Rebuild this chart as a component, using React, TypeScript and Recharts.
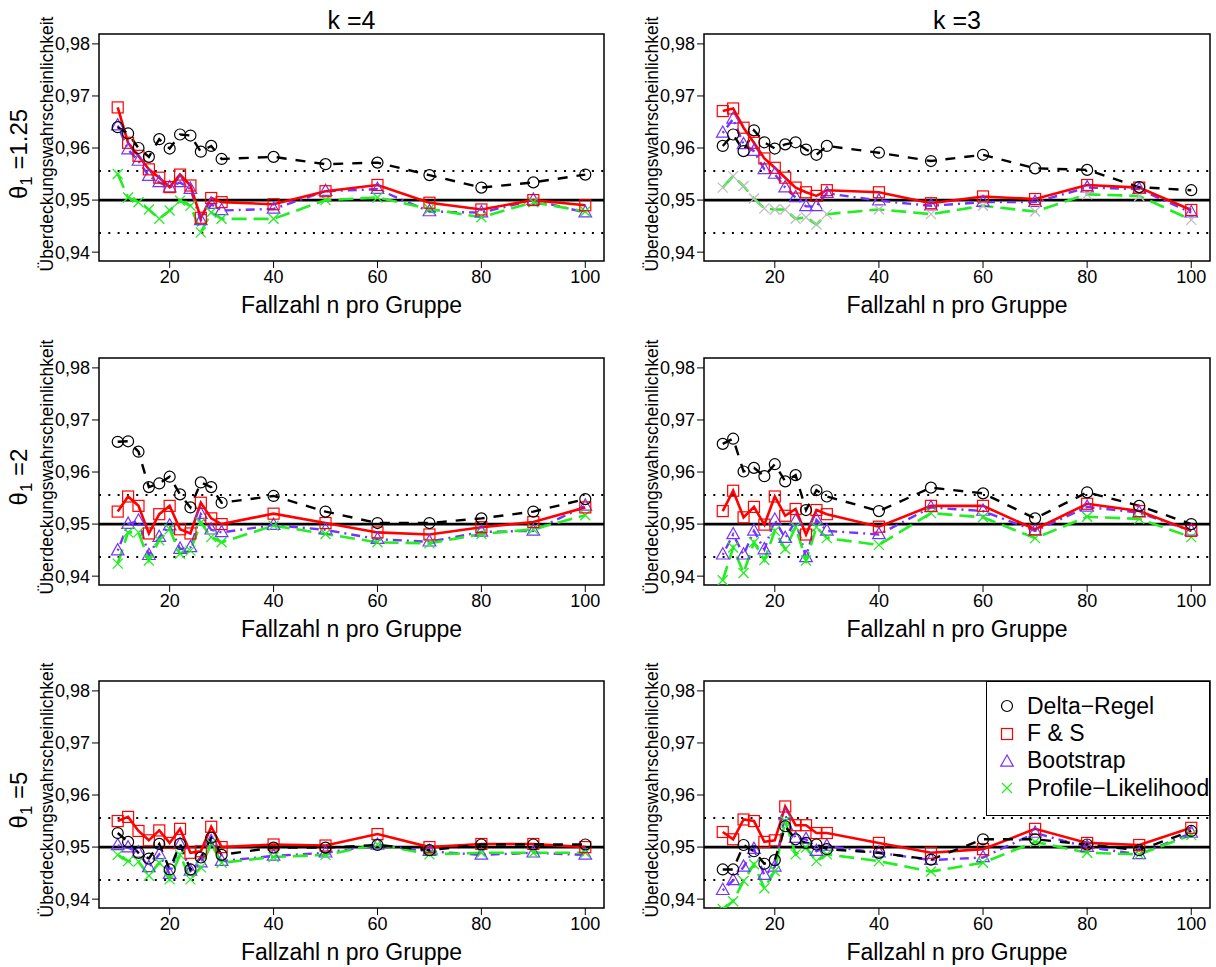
import React from 'react'
import { LineChart, Line, XAxis, YAxis, ReferenceLine, ReferenceArea } from 'recharts'

// sample sizes per group
const N = [10, 12, 14, 16, 18, 20, 22, 24, 26, 28, 30, 40, 50, 60, 70, 80, 90, 100]

// theta1 = 1.25
const delta_k4_t1 = [0.9640, 0.9628, 0.9600, 0.9583, 0.9617, 0.9599, 0.9626, 0.9624, 0.9593, 0.9604, 0.9579, 0.9583, 0.9569, 0.9572, 0.9548, 0.9524, 0.9534, 0.9549]
const fs_k4_t1 = [0.9678, 0.9610, 0.9585, 0.9559, 0.9543, 0.9525, 0.9549, 0.9528, 0.9466, 0.9504, 0.9496, 0.9492, 0.9517, 0.9529, 0.9495, 0.9482, 0.9500, 0.9490]
const boot_k4_t1 = [0.9643, 0.9597, 0.9575, 0.9546, 0.9534, 0.9524, 0.9534, 0.9521, 0.9461, 0.9492, 0.9480, 0.9483, 0.9517, 0.9521, 0.9478, 0.9476, 0.9500, 0.9476]
const pl_k4_t1 = [0.9550, 0.9505, 0.9496, 0.9482, 0.9464, 0.9480, 0.9499, 0.9489, 0.9438, 0.9476, 0.9464, 0.9464, 0.9500, 0.9505, 0.9483, 0.9467, 0.9496, 0.9478]

const delta_k3_t1 = [0.9604, 0.9626, 0.9594, 0.9634, 0.9611, 0.9599, 0.9607, 0.9611, 0.9597, 0.9587, 0.9604, 0.9591, 0.9575, 0.9587, 0.9561, 0.9558, 0.9525, 0.9519]
const fs_k3_t1 = [0.9671, 0.9676, 0.9639, 0.9610, 0.9580, 0.9562, 0.9543, 0.9524, 0.9515, 0.9508, 0.9519, 0.9515, 0.9494, 0.9507, 0.9502, 0.9529, 0.9524, 0.9481]
const boot_k3_t1 = [0.9629, 0.9656, 0.9607, 0.9594, 0.9559, 0.9550, 0.9524, 0.9505, 0.9488, 0.9488, 0.9513, 0.9499, 0.9489, 0.9496, 0.9496, 0.9524, 0.9521, 0.9476]
const pl_k3_t1 = [0.9524, 0.9546, 0.9527, 0.9503, 0.9484, 0.9482, 0.9482, 0.9464, 0.9467, 0.9453, 0.9473, 0.9482, 0.9473, 0.9489, 0.9478, 0.9511, 0.9508, 0.9462]

// theta1 = 2
const delta_k4_t2 = [0.9658, 0.9659, 0.9639, 0.9571, 0.9578, 0.9591, 0.9557, 0.9532, 0.9580, 0.9571, 0.9541, 0.9554, 0.9524, 0.9502, 0.9502, 0.9511, 0.9524, 0.9548]
const fs_k4_t2 = [0.9524, 0.9553, 0.9535, 0.9482, 0.9519, 0.9535, 0.9490, 0.9482, 0.9541, 0.9511, 0.9500, 0.9520, 0.9502, 0.9484, 0.9480, 0.9494, 0.9504, 0.9532]
const boot_k4_t2 = [0.9449, 0.9500, 0.9506, 0.9440, 0.9475, 0.9497, 0.9452, 0.9455, 0.9519, 0.9489, 0.9484, 0.9498, 0.9489, 0.9471, 0.9466, 0.9485, 0.9487, 0.9535]
const pl_k4_t2 = [0.9424, 0.9484, 0.9484, 0.9430, 0.9469, 0.9490, 0.9443, 0.9449, 0.9503, 0.9475, 0.9465, 0.9497, 0.9481, 0.9465, 0.9463, 0.9481, 0.9490, 0.9517]

const delta_k3_t2 = [0.9654, 0.9664, 0.9601, 0.9608, 0.9592, 0.9615, 0.9582, 0.9594, 0.9527, 0.9565, 0.9553, 0.9525, 0.9570, 0.9559, 0.9511, 0.9561, 0.9535, 0.9500]
const fs_k3_t2 = [0.9525, 0.9564, 0.9513, 0.9533, 0.9499, 0.9553, 0.9516, 0.9529, 0.9480, 0.9527, 0.9519, 0.9495, 0.9535, 0.9535, 0.9490, 0.9539, 0.9525, 0.9487]
const boot_k3_t2 = [0.9441, 0.9480, 0.9441, 0.9487, 0.9451, 0.9508, 0.9473, 0.9506, 0.9436, 0.9508, 0.9487, 0.9480, 0.9532, 0.9525, 0.9487, 0.9533, 0.9522, 0.9487]
const pl_k3_t2 = [0.9392, 0.9455, 0.9406, 0.9465, 0.9431, 0.9487, 0.9452, 0.9494, 0.9430, 0.9494, 0.9473, 0.9460, 0.9521, 0.9513, 0.9473, 0.9514, 0.9510, 0.9475]

// theta1 = 5
const delta_k4_t5 = [0.9527, 0.9510, 0.9489, 0.9478, 0.9506, 0.9457, 0.9506, 0.9457, 0.9480, 0.9518, 0.9485, 0.9499, 0.9499, 0.9504, 0.9494, 0.9505, 0.9505, 0.9505]
const fs_k4_t5 = [0.9550, 0.9558, 0.9531, 0.9513, 0.9532, 0.9508, 0.9535, 0.9489, 0.9492, 0.9539, 0.9500, 0.9505, 0.9503, 0.9525, 0.9500, 0.9506, 0.9506, 0.9500]
const boot_k4_t5 = [0.9503, 0.9499, 0.9489, 0.9461, 0.9486, 0.9448, 0.9505, 0.9454, 0.9470, 0.9511, 0.9473, 0.9483, 0.9489, 0.9504, 0.9492, 0.9485, 0.9489, 0.9485]
const pl_k4_t5 = [0.9485, 0.9473, 0.9472, 0.9445, 0.9470, 0.9438, 0.9485, 0.9438, 0.9461, 0.9506, 0.9470, 0.9481, 0.9485, 0.9505, 0.9486, 0.9489, 0.9489, 0.9489]

const delta_k3_t5 = [0.9457, 0.9457, 0.9504, 0.9492, 0.9468, 0.9475, 0.9540, 0.9515, 0.9508, 0.9505, 0.9496, 0.9489, 0.9476, 0.9515, 0.9515, 0.9505, 0.9494, 0.9531]
const fs_k3_t5 = [0.9529, 0.9515, 0.9553, 0.9550, 0.9510, 0.9513, 0.9578, 0.9542, 0.9542, 0.9527, 0.9527, 0.9508, 0.9489, 0.9496, 0.9535, 0.9508, 0.9504, 0.9537]
const boot_k3_t5 = [0.9417, 0.9436, 0.9462, 0.9496, 0.9446, 0.9462, 0.9561, 0.9517, 0.9515, 0.9492, 0.9502, 0.9489, 0.9475, 0.9480, 0.9527, 0.9500, 0.9486, 0.9527]
const pl_k3_t5 = [0.9381, 0.9396, 0.9435, 0.9467, 0.9421, 0.9454, 0.9550, 0.9486, 0.9499, 0.9473, 0.9486, 0.9473, 0.9453, 0.9470, 0.9510, 0.9489, 0.9486, 0.9523]

const X_TICKS = [20, 40, 60, 80, 100]
const Y_TICKS = [0.94, 0.95, 0.96, 0.97, 0.98]
const UPPER = 0.9556
const LOWER = 0.9437

const FONT = '"Liberation Sans", Arial, Helvetica, sans-serif'
const PURPLE = '#7433FF'
const GREEN = '#22EE22'

const buildRows = (d: number[], f: number[], b: number[], p: number[]) =>
  N.map((n, i) => ({ n, delta: d[i], fs: f[i], boot: b[i], pl: p[i] }))

const panels = [
  { row: 0, col: 0, data: buildRows(delta_k4_t1, fs_k4_t1, boot_k4_t1, pl_k4_t1), grayX: false },
  { row: 0, col: 1, data: buildRows(delta_k3_t1, fs_k3_t1, boot_k3_t1, pl_k3_t1), grayX: true },
  { row: 1, col: 0, data: buildRows(delta_k4_t2, fs_k4_t2, boot_k4_t2, pl_k4_t2), grayX: false },
  { row: 1, col: 1, data: buildRows(delta_k3_t2, fs_k3_t2, boot_k3_t2, pl_k3_t2), grayX: false },
  { row: 2, col: 0, data: buildRows(delta_k4_t5, fs_k4_t5, boot_k4_t5, pl_k4_t5), grayX: false },
  { row: 2, col: 1, data: buildRows(delta_k3_t5, fs_k3_t5, boot_k3_t5, pl_k3_t5), grayX: false },
]

const rowLabels = ['1.25', '2', '5']
const colTitles = ['k =4', 'k =3']

// plot box geometry
const ROW_TOP = [34, 357.5, 680.5]
const PLOT_H = 227
const COL_LEFT = [99, 704]
const PLOT_W = [505, 506]
const CHART_X = [0, 608]
const CHART_W = 608
const PAD_TOP = 10

// marker shapes
const circleDot = (p: any) => (
  <circle key={p.key} cx={p.cx} cy={p.cy} r={5.5} fill="none" stroke="#000" strokeWidth={1.2} />
)
const squareDot = (p: any) => (
  <rect key={p.key} x={p.cx - 5.5} y={p.cy - 5.5} width={11} height={11} fill="none" stroke="#ff0000" strokeWidth={1.2} />
)
const triDot = (p: any) => (
  <polygon key={p.key} points={`${p.cx},${p.cy - 7} ${p.cx - 6.3},${p.cy + 4.2} ${p.cx + 6.3},${p.cy + 4.2}`} fill="none" stroke={PURPLE} strokeWidth={1.2} />
)
const crossDot = (color: string) => (p: any) => (
  <g key={p.key} stroke={color} strokeWidth={1.3}>
    <line x1={p.cx - 5} y1={p.cy - 5} x2={p.cx + 5} y2={p.cy + 5} />
    <line x1={p.cx - 5} y1={p.cy + 5} x2={p.cx + 5} y2={p.cy - 5} />
  </g>
)

function Panel({ row, col, data, grayX }: any) {
  const left = COL_LEFT[col] - CHART_X[col]
  const right = CHART_W - left - PLOT_W[col]
  return (
    <div style={{ position: 'absolute', left: CHART_X[col], top: ROW_TOP[row] - PAD_TOP }}>
      <LineChart width={CHART_W} height={PAD_TOP + PLOT_H + 40} data={data}
        margin={{ top: PAD_TOP, right, bottom: 0, left: 0 }}>
        <XAxis type="number" dataKey="n" domain={[6.4, 103.6]} ticks={X_TICKS} allowDataOverflow
          axisLine={false} tickLine={{ stroke: '#000' }} tickSize={7} height={40}
          tick={{ fontSize: 18, fill: '#000', fontFamily: FONT }} />
        <YAxis type="number" domain={[0.9383, 0.9819]} ticks={Y_TICKS} allowDataOverflow
          width={left} axisLine={false} tickLine={{ stroke: '#000' }} tickSize={7}
          tickFormatter={(v: number) => v.toFixed(2).replace('.', ',')}
          tick={{ fontSize: 18, fill: '#000', fontFamily: FONT }} />
        <ReferenceLine y={UPPER} stroke="#000" strokeWidth={2} strokeDasharray="2 7.3" />
        <ReferenceLine y={LOWER} stroke="#000" strokeWidth={2} strokeDasharray="2 7.3" />
        <ReferenceLine y={0.95} stroke="#000" strokeWidth={2.6} />
        <Line dataKey="boot" stroke={PURPLE} strokeWidth={2.4} strokeDasharray="2 5 9 5" dot={triDot} isAnimationActive={false} />
        <Line dataKey="pl" stroke={GREEN} strokeWidth={2.6} strokeDasharray="15 7" dot={crossDot(grayX ? '#bebebe' : GREEN)} isAnimationActive={false} />
        <Line dataKey="fs" stroke="#ff0000" strokeWidth={2.6} dot={squareDot} isAnimationActive={false} />
        <Line dataKey="delta" stroke="#000" strokeWidth={2.4} strokeDasharray="10 9" dot={circleDot} isAnimationActive={false} />
        <ReferenceArea x1={6.4} x2={103.6} y1={0.9383} y2={0.9819} fill="none" stroke="#000" strokeWidth={1.5} ifOverflow="extendDomain" />
      </LineChart>
    </div>
  )
}

const legendItems = [
  { name: 'Delta\u2212Regel', shape: 'circle' },
  { name: 'F & S', shape: 'square' },
  { name: 'Bootstrap', shape: 'tri' },
  { name: 'Profile\u2212Likelihood', shape: 'cross' },
]

function LegendIcon({ shape }: { shape: string }) {
  const c = 10
  return (
    <svg width={20} height={20} style={{ display: 'block', flexShrink: 0 }}>
      {shape === 'circle' && circleDot({ cx: c, cy: c, key: 'c' })}
      {shape === 'square' && squareDot({ cx: c, cy: c, key: 's' })}
      {shape === 'tri' && triDot({ cx: c, cy: c + 1, key: 't' })}
      {shape === 'cross' && crossDot(GREEN)({ cx: c, cy: c, key: 'x' })}
    </svg>
  )
}

export default function App() {
  return (
    <div style={{ position: 'absolute', left: 0, top: 0, width: 1216, height: 967, background: '#fff', fontFamily: FONT, color: '#000' }}>
      {panels.map((p, i) => <Panel key={i} {...p} />)}

      {colTitles.map((t, c) => (
        <div key={t} style={{ position: 'absolute', left: COL_LEFT[c] + PLOT_W[c] / 2, top: 20, transform: 'translate(-50%,-50%)', fontSize: 25, whiteSpace: 'nowrap' }}>{t}</div>
      ))}

      {[0, 1, 2].map(r => (
        <React.Fragment key={r}>
          {[0, 1].map(c => (
            <React.Fragment key={c}>
              <div style={{ position: 'absolute', left: COL_LEFT[c] + PLOT_W[c] / 2, top: ROW_TOP[r] + PLOT_H + 44, transform: 'translate(-50%,-50%)', fontSize: 23, whiteSpace: 'nowrap' }}>
                Fallzahl n pro Gruppe
              </div>
              <div style={{ position: 'absolute', left: COL_LEFT[c] - 52, top: ROW_TOP[r] + PLOT_H / 2 - 4, transform: 'translate(-50%,-50%) rotate(-90deg)', fontSize: 17.5, whiteSpace: 'nowrap' }}>
                Überdeckungswahrscheinlichkeit
              </div>
            </React.Fragment>
          ))}
          <div style={{ position: 'absolute', left: 21, top: ROW_TOP[r] + PLOT_H / 2 + 6, transform: 'translate(-50%,-50%) rotate(-90deg)', fontSize: 24, whiteSpace: 'nowrap' }}>
            θ<sub style={{ fontSize: 17 }}>1</sub> ={rowLabels[r]}
          </div>
        </React.Fragment>
      ))}

      <div style={{ position: 'absolute', left: 986, top: ROW_TOP[2], width: 224, height: 135, boxSizing: 'border-box', border: '1.5px solid #000', background: '#fff', padding: '11px 0 0 10px' }}>
        {legendItems.map(it => (
          <div key={it.name} style={{ display: 'flex', alignItems: 'center', height: 27.4, fontSize: 23 }}>
            <LegendIcon shape={it.shape} />
            <span style={{ marginLeft: 10, whiteSpace: 'nowrap' }}>{it.name}</span>
          </div>
        ))}
      </div>
    </div>
  )
}
